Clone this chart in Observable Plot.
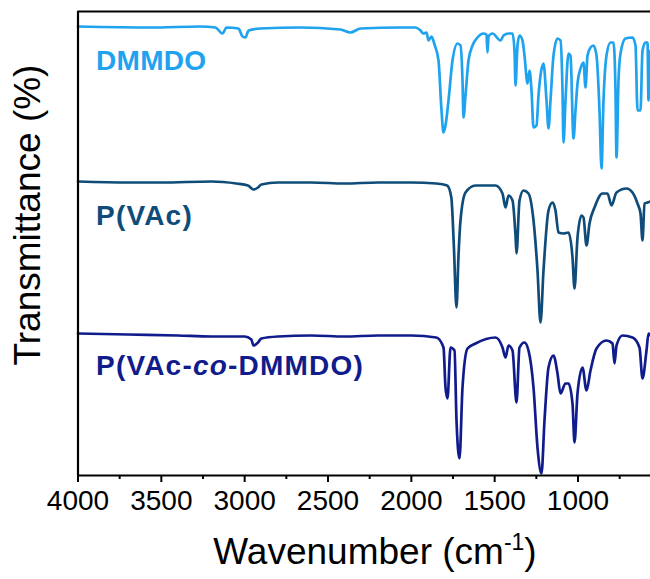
<!DOCTYPE html>
<html>
<head>
<meta charset="utf-8">
<script src="https://cdn.jsdelivr.net/npm/d3@7"></script>
<script src="https://cdn.jsdelivr.net/npm/@observablehq/plot@0.6"></script>
<style>
  html, body { margin: 0; padding: 0; background: white; }
</style>
</head>
<body>
<div id="chart"></div>
<script>
// ---- data: [wavenumber (cm-1), transmittance (arbitrary units, offset)] ----
const dmmdo = [
  [4000,449],[3565,448],[3265,449],[3175,448],[3133,442],[3109,448],[3037,447],[3013,439],[2995,438],[2977,445],
  [2905,447],[2665,448],[2425,446],[2365,443],[2305,447],[2065,448],[1975,448],[1945,445],[1927,442],[1909,443],
  [1897,435],[1879,439],[1861,431],[1837,415],[1819,365],[1807,343],[1795,350],[1777,375],[1753,415],[1723,432],
  [1705,430],[1693,395],[1687,358],[1675,380],[1657,415],[1633,430],[1603,438],[1567,442],[1549,441],[1543,423],
  [1537,439],[1513,442],[1465,435],[1447,440],[1417,442],[1393,442],[1381,425],[1375,390],[1363,430],[1351,440],
  [1333,435],[1321,420],[1303,392],[1291,405],[1279,385],[1267,348],[1249,350],[1237,380],[1225,400],[1207,412],
  [1189,375],[1177,347],[1165,375],[1147,420],[1123,437],[1105,435],[1093,385],[1087,333],[1075,375],[1057,422],
  [1045,420],[1027,337],[1015,365],[1003,392],[985,407],[967,413],[955,388],[943,420],[925,428],[907,430],
  [889,420],[871,365],[859,307],[847,375],[829,420],[805,433],[787,433],[775,385],[769,318],[757,395],
  [745,422],[715,437],[673,438],[655,430],[643,365],[625,365],[613,425],[595,433],[583,433],[577,375],[565,425]
];
const pvac = [
  [4000,294],[3700,293],[3500,293],[3200,294],[3050,292],[2980,290],[2947,286],[2920,288],[2900,291],[2800,293],
  [2600,293],[2400,292],[2200,293],[2000,293],[1850,292],[1785,290],[1760,278],[1745,230],[1729,168],[1717,220],
  [1705,255],[1675,283],[1615,290],[1495,290],[1453,282],[1435,268],[1417,280],[1393,275],[1375,240],[1369,222],
  [1351,275],[1327,285],[1297,282],[1267,255],[1243,205],[1225,153],[1207,205],[1177,265],[1153,273],[1135,265],
  [1117,243],[1087,242],[1057,243],[1033,218],[1021,187],[1003,238],[979,260],[967,258],[949,230],[931,252],
  [901,268],[853,282],[823,282],[799,270],[769,283],[709,287],[673,283],[643,272],[625,262],[613,235],
  [601,272],[583,273],[565,274]
];
const copoly = [
  [4000,142],[3700,141],[3400,140],[3200,139],[3000,139],[2960,136],[2947,130],[2920,133],[2900,137],[2800,139],
  [2600,140],[2400,139],[2200,140],[2000,140],[1850,138],[1807,128],[1795,88],[1783,77],[1765,128],[1741,125],
  [1729,55],[1711,17],[1693,88],[1663,127],[1615,132],[1495,138],[1453,128],[1435,118],[1417,130],[1393,125],
  [1369,73],[1351,128],[1321,133],[1297,125],[1267,88],[1243,28],[1219,2],[1201,55],[1177,108],[1147,120],
  [1123,102],[1105,82],[1075,92],[1057,92],[1033,72],[1021,33],[1003,82],[973,108],[949,85],[925,105],
  [889,127],[829,135],[793,132],[781,112],[769,130],[733,140],[673,138],[631,128],[613,97],[589,125],
  [577,142],[565,140]
];
const seriesNames = ["DMMDO", "P(VAc)", "P(VAc-co-DMMDO)"];
const seriesColors = ["#1fa3ee", "#0f4c7a", "#111c8c"];
const labelX = [3889, 3889, 3889];
const labelY = [405, 250, 100];
const xTicks = [4000, 3500, 3000, 2500, 2000, 1500, 1000];
const xMinorTicks = [3750, 3250, 2750, 2250, 1750, 1250, 750];

const font = "'Liberation Sans', Arial, sans-serif";
const lineOpts = (c) => ({x: d => d[0], y: d => d[1], stroke: c, strokeWidth: 2.7, strokeLinejoin: "round", curve: "monotone-x"});

const plot = Plot.plot({
  width: 650,
  height: 579,
  marginLeft: 77.5,
  marginRight: 0,
  marginTop: 11,
  marginBottom: 104,
  style: {fontFamily: font, background: "white", color: "black"},
  x: {domain: [4000, 565]},
  y: {domain: [0, 464], axis: null},
  marks: [
    Plot.axisX({ticks: xMinorTicks, tickSize: 4, tickFormat: () => "", label: null, strokeWidth: 2}),
    Plot.axisX({ticks: xTicks, tickSize: 7, tickPadding: 8, tickFormat: d => String(d), label: null, fontSize: 28, strokeWidth: 2}),
    Plot.line(dmmdo, lineOpts(seriesColors[0])),
    Plot.line(pvac, lineOpts(seriesColors[1])),
    Plot.line(copoly, lineOpts(seriesColors[2])),
    Plot.ruleX([4000], {stroke: "black", strokeWidth: 2.2}),
    Plot.ruleY([0], {stroke: "black", strokeWidth: 2.2}),
    Plot.ruleY([464], {stroke: "black", strokeWidth: 2.2})
  ]
});

const svg = d3.select(plot);
const xs = plot.scale("x"), ys = plot.scale("y");

// series labels (with italic "co")
seriesNames.forEach((name, i) => {
  const t = svg.append("text")
    .attr("x", xs.apply(labelX[i]))
    .attr("y", ys.apply(labelY[i]))
    .attr("text-anchor", "start")
    .attr("fill", seriesColors[i])
    .attr("font-family", font)
    .attr("font-weight", "bold")
    .attr("font-size", 28)
    .attr("letter-spacing", i === 0 ? 0.3 : 1.2);
  if (name.includes("-co-")) {
    const [a, b] = name.split("-co-");
    t.append("tspan").text(a + "-");
    t.append("tspan").attr("font-style", "italic").text("co");
    t.append("tspan").text("-" + b);
  } else {
    t.text(name);
  }
});

// x axis title with superscript
const xt = svg.append("text")
  .attr("x", 375).attr("y", 564)
  .attr("text-anchor", "middle")
  .attr("font-family", font)
  .attr("font-size", 37)
  .attr("fill", "black");
xt.append("tspan").text("Wavenumber (cm");
xt.append("tspan").attr("font-size", 23).attr("dy", -14).text("-1");
xt.append("tspan").attr("dy", 14).text(")");

// y axis title
svg.append("text")
  .attr("transform", "translate(40,215) rotate(-90)")
  .attr("text-anchor", "middle")
  .attr("font-family", font)
  .attr("font-size", 37)
  .attr("fill", "black")
  .text("Transmittance (%)");

document.getElementById("chart").appendChild(plot);
</script>
</body>
</html>
